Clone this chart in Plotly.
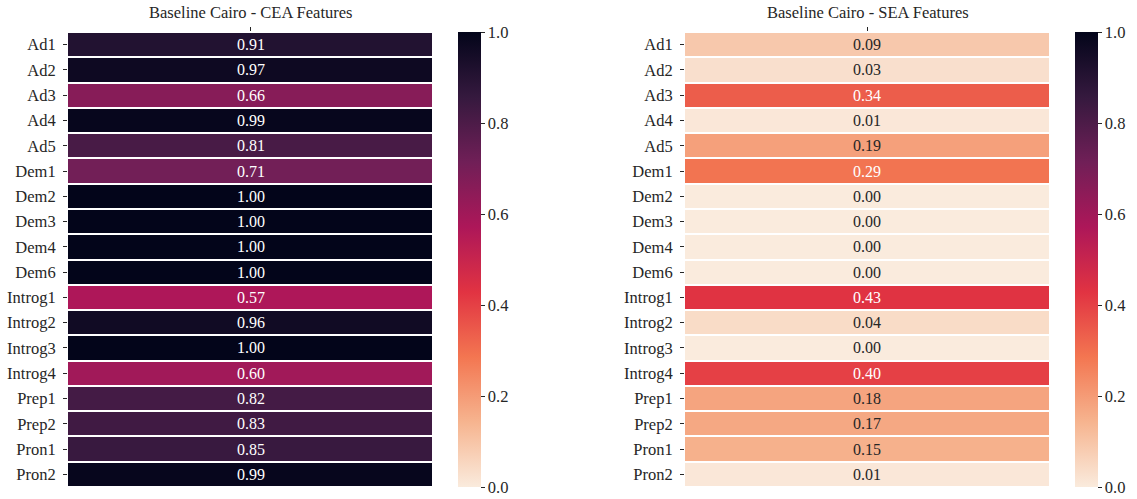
import plotly.graph_objects as go

features = ["Ad1", "Ad2", "Ad3", "Ad4", "Ad5", "Dem1", "Dem2", "Dem3", "Dem4", "Dem6",
            "Introg1", "Introg2", "Introg3", "Introg4", "Prep1", "Prep2", "Pron1", "Pron2"]
cea_values = [0.91, 0.97, 0.66, 0.99, 0.81, 0.71, 1.00, 1.00, 1.00, 1.00,
              0.57, 0.96, 1.00, 0.60, 0.82, 0.83, 0.85, 0.99]
sea_values = [0.09, 0.03, 0.34, 0.01, 0.19, 0.29, 0.00, 0.00, 0.00, 0.00,
              0.43, 0.04, 0.00, 0.40, 0.18, 0.17, 0.15, 0.01]
titles = ["Baseline Cairo - CEA Features", "Baseline Cairo - SEA Features"]
cbar_ticks = [0.0, 0.2, 0.4, 0.6, 0.8, 1.0]

# rocket_r colormap (seaborn)
rocket_r_hex = ["#faebdd", "#f6b48f", "#f37651", "#e13342", "#ad1759", "#701f57", "#35193e", "#03051a"]
stops = [i / (len(rocket_r_hex) - 1) for i in range(len(rocket_r_hex))]
colorscale = [[s, c] for s, c in zip(stops, rocket_r_hex)]

FONT = "Liberation Serif"
W, H = 1137, 499


def hex2rgb(h):
    h = h.lstrip("#")
    return [int(h[i:i + 2], 16) / 255 for i in (0, 2, 4)]


def cmap(v):
    for i in range(len(stops) - 1):
        if stops[i] <= v <= stops[i + 1]:
            f = (v - stops[i]) / (stops[i + 1] - stops[i])
            a, b = hex2rgb(rocket_r_hex[i]), hex2rgb(rocket_r_hex[i + 1])
            return [a[k] + (b[k] - a[k]) * f for k in range(3)]
    return hex2rgb(rocket_r_hex[-1])


def text_color(v):
    rgb = cmap(v)
    lin = [c / 12.92 if c <= 0.03928 else ((c + 0.055) / 1.055) ** 2.4 for c in rgb]
    lum = 0.2126 * lin[0] + 0.7152 * lin[1] + 0.0722 * lin[2]
    return "#262626" if lum > 0.408 else "white"


heat_x = [(68 / W, 433 / W), (685 / W, 1050 / W)]
cbar_x = [458 / W, 1075 / W]
y_dom = (12 / H, 467 / H)

fig = go.Figure()
rows = list(range(len(features)))
for k, vals in enumerate([cea_values, sea_values]):
    xa = "x" if k == 0 else "x2"
    ya = "y" if k == 0 else "y2"
    fig.add_trace(go.Heatmap(
        z=[[v] for v in vals], x=[0], y=rows,
        zmin=0, zmax=1, colorscale=colorscale, ygap=2, xgap=1,
        xaxis=xa, yaxis=ya, hoverinfo="skip",
        colorbar=dict(
            x=cbar_x[k], xanchor="left", xref="paper", thickness=23, xpad=0, ypad=0,
            len=455, lenmode="pixels", y=(y_dom[0] + y_dom[1]) / 2, yanchor="middle",
            outlinewidth=0, tickvals=cbar_ticks, tickformat=".1f",
            ticks="outside", ticklen=4, tickwidth=1, tickcolor="#262626",
            tickfont=dict(family=FONT, size=16.5, color="#262626"),
        ),
    ))
    for i, v in enumerate(vals):
        fig.add_annotation(x=0, y=i, xref=xa, yref=ya, text=f"{v:.2f}", showarrow=False,
                           font=dict(family=FONT, size=16, color=text_color(v)))
    fig.add_annotation(x=(heat_x[k][0] + heat_x[k][1]) / 2, y=1 - 12 / H, xref="paper", yref="paper",
                       text=titles[k], showarrow=False, xanchor="center", yanchor="middle",
                       font=dict(family=FONT, size=16.5, color="#262626"))

    axx = dict(domain=heat_x[k], range=[-0.5, 0.5], side="top", tickvals=[0], ticktext=[" "],
               ticks="outside", ticklen=4, tickwidth=1, tickcolor="#262626",
               showgrid=False, zeroline=False, showline=False, anchor=ya)
    axy = dict(domain=y_dom, range=[len(features) - 0.5, -0.5], tickvals=rows, ticktext=features,
               ticks="outside", ticklen=4, tickwidth=1, tickcolor="#262626",
               ticklabelstandoff=4,
               tickfont=dict(family=FONT, size=16.5, color="#262626"),
               showgrid=False, zeroline=False, showline=False, anchor=xa)
    if k == 0:
        fig.update_layout(xaxis=axx, yaxis=axy)
    else:
        fig.update_layout(xaxis2=axx, yaxis2=axy)

fig.update_layout(width=W, height=H, margin=dict(l=0, r=0, t=0, b=0),
                  paper_bgcolor="white", plot_bgcolor="white", showlegend=False,
                  font=dict(family=FONT))
fig.write_html("out.html", config={"displayModeBar": False},
               post_script="document.body.style.margin='0';document.body.style.overflow='hidden';")
